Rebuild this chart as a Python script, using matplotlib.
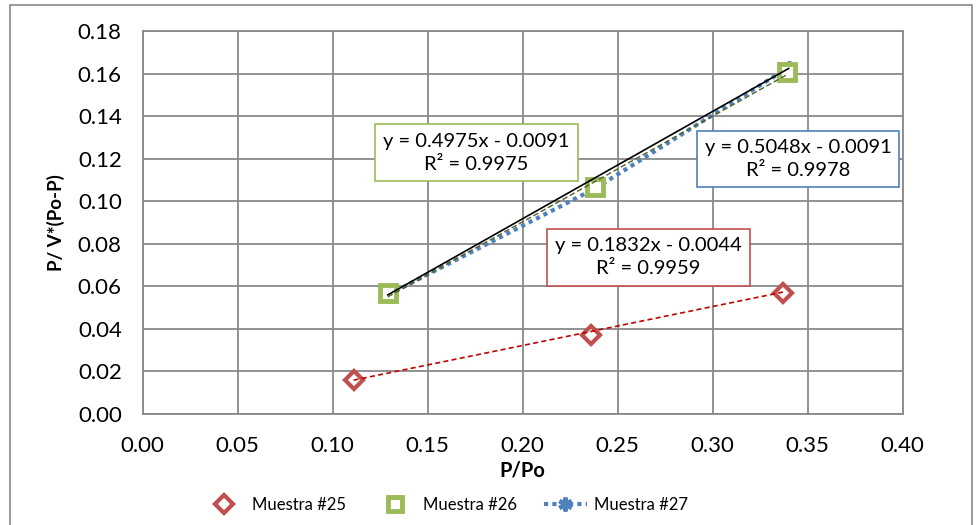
import matplotlib.pyplot as plt
from matplotlib.patches import Rectangle
from matplotlib.lines import Line2D


# datos
x_m25 = [0.111, 0.236, 0.337]
y_m25 = [0.016, 0.037, 0.057]

x_m26 = [0.129, 0.238, 0.339]
y_m26 = [0.057, 0.107, 0.161]

x_m27 = [0.129, 0.238, 0.340]
y_m27 = [0.056, 0.106, 0.163]

# lineas de tendencia (pendiente, intercepto, R2)
tend_m25 = (0.1832, -0.0044, 0.9959)
tend_m26 = (0.4975, -0.0091, 0.9975)
tend_m27 = (0.5048, -0.0091, 0.9978)

etiquetas = ["Muestra #25", "Muestra #26", "Muestra #27"]

ROJO = "#C0504D"
VERDE = "#9BBB59"
AZUL = "#4F81BD"
GRIS = "#898989"

plt.rcParams["font.family"] = ["Lato", "DejaVu Sans"]


def recta(tend, xs):
    m, b, _ = tend
    x0, x1 = min(xs), max(xs)
    return [x0, x1], [m * x0 + b, m * x1 + b]


def texto_ecuacion(tend):
    m, b, r2 = tend
    signo = "-" if b < 0 else "+"
    return f"y = {m:.4f}x {signo} {abs(b):.4f}\nR² = {r2:.4f}"


fig = plt.figure(figsize=(9.76, 5.25), dpi=100)
ax = fig.add_axes([0.1462, 0.2114, 0.7787, 0.729])

# borde exterior del grafico
fig.patches.append(Rectangle((10 / 976, -0.1), 962 / 976, 1.09,
                             transform=fig.transFigure, fill=False,
                             edgecolor=GRIS, linewidth=1.2))

ax.plot(x_m25, y_m25, linestyle="none", marker="D", markersize=9,
        markerfacecolor="white", markeredgecolor=ROJO, markeredgewidth=3,
        zorder=3)
ax.plot(x_m26, y_m26, linestyle="none", marker="s", markersize=11,
        markerfacecolor="white", markeredgecolor=VERDE, markeredgewidth=3.5,
        zorder=3)
ax.plot(x_m27, y_m27, linestyle=(0, (1, 1)), color=AZUL, linewidth=3,
        marker=(6, 2, 0), markersize=9, markeredgecolor=AZUL,
        markeredgewidth=2.5, zorder=2)

lx, ly = recta(tend_m25, x_m25)
ax.plot(lx, ly, color="#C00000", linestyle=(0, (3, 2)), linewidth=1.2, zorder=4)
lx, ly = recta(tend_m26, x_m26)
ax.plot(lx, ly, color="#4F6228", linestyle=(0, (4, 2)), linewidth=1.0, zorder=4)
lx, ly = recta(tend_m27, x_m27)
ax.plot(lx, ly, color="black", linewidth=1.2, zorder=5)

caja = dict(boxstyle="square,pad=0.4", facecolor="white", linewidth=1.2)
ax.text(0.1757, 0.1229, texto_ecuacion(tend_m26), fontsize=14.5,
        ha="center", va="center", linespacing=1.45,
        bbox=dict(caja, edgecolor=VERDE), zorder=6)
ax.text(0.3449, 0.1198, texto_ecuacion(tend_m27), fontsize=14.5,
        ha="center", va="center", linespacing=1.45,
        bbox=dict(caja, edgecolor=AZUL), zorder=6)
ax.text(0.2662, 0.0737, texto_ecuacion(tend_m25), fontsize=14.5,
        ha="center", va="center", linespacing=1.45,
        bbox=dict(caja, edgecolor=ROJO), zorder=6)

ax.set_xlim(0, 0.40)
ax.set_ylim(0, 0.18)
ax.set_xticks([i * 0.05 for i in range(9)])
ax.set_yticks([i * 0.02 for i in range(10)])
ax.xaxis.set_major_formatter(plt.FormatStrFormatter("%.2f"))
ax.yaxis.set_major_formatter(plt.FormatStrFormatter("%.2f"))
ax.tick_params(length=0, labelsize=16)
ax.tick_params(axis="y", pad=15)
ax.tick_params(axis="x", pad=16)
ax.grid(True, color=GRIS, linewidth=1.3)
ax.set_axisbelow(True)
for lado in ax.spines.values():
    lado.set_color(GRIS)
    lado.set_linewidth(1.3)

ax.set_xlabel("P/Po", fontsize=14.5, fontweight="bold", labelpad=3)
ax.set_ylabel("P/ V*(Po-P)", fontsize=13.5, fontweight="bold", labelpad=9)

manejadores = [
    Line2D([], [], linestyle="none", marker="D", markersize=9,
           markerfacecolor="white", markeredgecolor=ROJO, markeredgewidth=3),
    Line2D([], [], linestyle="none", marker="s", markersize=10,
           markerfacecolor="white", markeredgecolor=VERDE, markeredgewidth=3.5),
    Line2D([], [], linestyle=(0, (1, 1)), color=AZUL, linewidth=3,
           marker=(6, 2, 0), markersize=10, markeredgecolor=AZUL,
           markeredgewidth=3),
]
fig.legend(manejadores, etiquetas, loc="center", ncol=3, frameon=False,
           bbox_to_anchor=(0.456, 0.038), fontsize=12, handlelength=2.6,
           columnspacing=1.6, handletextpad=0.4)

fig.savefig("out.png", dpi=100)
plt.close(fig)
